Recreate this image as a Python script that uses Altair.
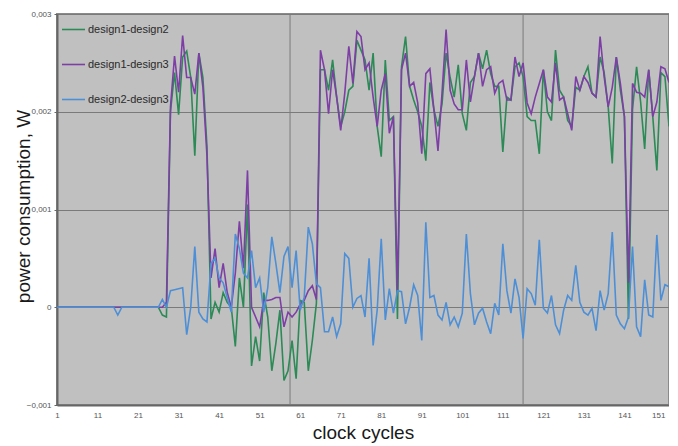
import altair as alt
import pandas as pd

# ---------------- data (values in mW) ----------------
cycles = list(range(1, 153))

d1_d2 = ([0.0] * 26 + [
    -0.08, -0.1, 2.0, 2.4, 1.97, 2.56, 2.62, 2.35, 1.55, 2.6,      # 27-36
    2.35, 1.65, -0.12, 0.05, -0.05, 0.15, 0.05, 0.0, -0.4, 0.3,    # 37-46
    0.0, 1.05, -0.6, -0.3, -0.55, 0.15, -0.1, -0.65, -0.37, -0.03, # 47-56
    -0.75, -0.65, -0.34, -0.73, 0.07, 0.05, -0.65, -0.34, 0.04, 2.43,  # 57-66
    2.43, 2.22, 2.53, 2.15, 1.85, 2.0, 2.22, 2.26, 2.73, 2.63,     # 67-76
    2.53, 2.22, 2.6, 1.85, 1.54, 2.53, 1.91, 1.95, -0.12, 2.46,    # 77-86
    2.77, 2.26, 2.12, 2.0, 1.85, 1.5, 2.3, 2.02, 1.85, 2.08,       # 87-96
    2.6, 2.35, 2.15, 2.48, 1.98, 1.81, 2.3, 2.36, 2.6, 2.44,       # 97-106
    2.63, 2.39, 2.26, 2.26, 1.59, 2.15, 2.12, 2.46, 2.5, 2.36,     # 107-116
    1.95, 1.91, 1.91, 1.57, 2.43, 2.0, 1.91, 2.63, 2.22, 2.15,     # 117-126
    1.91, 1.85, 2.25, 2.22, 2.36, 2.46, 2.19, 2.15, 2.56, 2.4,     # 127-136
    2.05, 1.47, 2.56, 2.22, 1.95, -0.12, 2.02, 2.46, 2.1, 1.62,    # 137-146
    2.43, 1.95, 1.4, 2.4, 2.36, 1.85,                              # 147-152
])

d1_d3 = ([0.0] * 26 + [
    0.0, 0.05, 2.05, 2.57, 2.2, 2.78, 2.35, 2.35, 2.18, 2.6,       # 27-36
    2.25, 1.55, 0.3, 0.6, 0.2, 0.45, 0.15, 0.0, 0.35, 0.88,        # 37-46
    0.4, 1.4, 0.0, -0.1, -0.2, 0.07, 0.07, 0.08, 0.1, 0.1,         # 47-56
    -0.2, -0.05, -0.1, -0.05, 0.03, 0.07, 0.17, 0.22, 0.08, 2.63,  # 57-66
    2.43, 1.98, 2.43, 2.15, 1.81, 2.19, 2.67, 2.29, 2.82, 2.77,    # 67-76
    2.43, 2.5, 2.15, 1.85, 2.22, 2.39, 1.78, 1.95, 0.17, 2.43,     # 77-86
    2.6, 2.26, 2.3, 2.09, 1.57, 2.39, 2.44, 2.02, 1.6, 2.19,       # 87-96
    2.84, 2.22, 2.08, 2.02, 2.02, 2.53, 2.1, 2.36, 2.6, 2.26,      # 97-106
    2.43, 2.46, 2.19, 2.29, 2.32, 2.12, 2.12, 2.56, 2.36, 2.5,     # 107-116
    2.09, 1.98, 2.15, 2.29, 2.43, 2.15, 2.1, 2.5, 2.12, 2.15,      # 117-126
    1.98, 1.81, 2.36, 2.22, 2.36, 2.3, 2.19, 2.15, 2.77, 2.36,     # 127-136
    2.05, 2.25, 2.56, 2.29, 1.95, 0.25, 2.29, 2.2, 2.19, 2.15,     # 137-146
    2.43, 1.95, 2.1, 2.46, 2.44, 2.3,                              # 147-152
])

d2_d3 = ([0.0] * 15 + [-0.08] + [0.0] * 10 + [
    0.08, 0.0, 0.17, 0.18, 0.19, 0.2, -0.28, 0.0, 0.62, -0.05,     # 27-36
    -0.12, -0.15, 0.45, 0.5, 0.3, 0.25, 0.1, -0.05, 0.75, 0.6,     # 37-46
    0.35, 0.3, 0.58, 0.2, 0.3, -0.05, 0.2, 0.72, 0.45, 0.15,       # 47-56
    0.52, 0.62, 0.2, 0.58, -0.03, 0.1, 0.82, 0.65, 0.24, 0.2,      # 57-66
    -0.25, -0.25, -0.1, -0.3, -0.17, 0.55, 0.5, 0.0, 0.09, 0.12,   # 67-76
    -0.1, 0.5, -0.39, -0.03, 0.7, -0.13, 0.19, -0.06, 0.17, 0.16,  # 77-86
    -0.17, 0.0, 0.23, 0.12, -0.34, 0.87, 0.1, 0.12, -0.08, -0.13,  # 87-96
    0.05, -0.18, -0.1, -0.2, -0.06, 0.75, 0.14, -0.18, -0.06, -0.01,  # 97-106
    -0.15, -0.27, 0.04, -0.08, 0.65, 0.17, -0.06, 0.29, 0.1, -0.32,   # 107-116
    0.19, 0.14, 0.02, 0.69, -0.01, -0.06, 0.12, -0.18, -0.27, -0.03,  # 117-126
    0.12, 0.07, 0.43, 0.05, -0.05, -0.08, -0.01, -0.24, 0.17, -0.03,  # 127-136
    0.14, 0.77, -0.08, -0.17, -0.22, -0.1, 0.62, -0.2, -0.3, 0.28,    # 137-146
    -0.08, -0.1, 0.74, 0.07, 0.23, 0.21,                               # 147-152
])

series_names = ["design1-design2", "design1-design3", "design2-design3"]
series_colors = ["#2b8a55", "#7d3fa5", "#4d8fd6"]
series_widths = [1.6, 1.6, 2.6]

x_tick_values = list(range(1, 152, 10))
y_tick_values = [-0.001, 0.0, 0.001, 0.002, 0.003]
v_grid_cycles = [58.5, 116]

rows = []
for name, vals in zip(series_names, [d1_d2, d1_d3, d2_d3]):
    for c, v in zip(cycles, vals):
        rows.append({"cycle": c, "power": v * 1e-3, "series": name})
df = pd.DataFrame(rows)

FONT = "Liberation Sans"

x_enc = alt.X(
    "cycle:Q",
    scale=alt.Scale(domain=[1, 152], nice=False, zero=False),
    axis=alt.Axis(
        values=x_tick_values, format="d", grid=False, ticks=False,
        labelFontSize=8, labelColor="#555555", labelPadding=6,
        labelAlign={"condition": {"test": "datum.value == 151", "value": "right"}, "value": "center"},
        domainColor="#666666", domainWidth=2,
        title="clock cycles", titleFontSize=19, titleFontWeight="normal",
        titleColor="#1a1a1a", titleY=33, titleBaseline="alphabetic",
    ),
)

y_enc = alt.Y(
    "power:Q",
    scale=alt.Scale(domain=[-0.001, 0.003], nice=False),
    axis=alt.Axis(
        values=y_tick_values,
        labelExpr="datum.value == 0 ? '0' : replace(format(datum.value, '.3f'), '.', ',')",
        labelFontSize=8, labelColor="#555555", labelPadding=3,
        ticks=True, tickSize=3, tickColor="#666666",
        grid=True, gridColor="#7a7a7a", gridWidth=1,
        domainColor="#666666", domainWidth=2,
        title="power consumption, W", titleFontSize=19, titleFontWeight="normal",
        titleColor="#1a1a1a", titleAngle=-90, titleX=-28, titleY=192,
        titleAlign="center", titleBaseline="alphabetic",
    ),
)

vgrid = alt.Chart(pd.DataFrame({"cycle": v_grid_cycles})).mark_rule(
    color="#7a7a7a", strokeWidth=1
).encode(x=x_enc)

lines = alt.Chart(df).mark_line().encode(
    x=x_enc,
    y=y_enc,
    color=alt.Color(
        "series:N",
        scale=alt.Scale(domain=series_names, range=series_colors),
        legend=alt.Legend(
            title=None, orient="none", legendX=4, legendY=3,
            symbolType="stroke", symbolSize=529, symbolStrokeWidth=2,
            labelFontSize=11, labelColor="#2a2a2a", labelOffset=2,
            rowPadding=17, padding=0,
        ),
    ),
    strokeWidth=alt.StrokeWidth(
        "series:N",
        scale=alt.Scale(domain=series_names, range=series_widths),
        legend=None,
    ),
)

chart = (
    alt.layer(vgrid, lines)
    .properties(
        width=612, height=391,
        autosize=alt.AutoSizeParams(type="none"),
        padding={"left": 49, "top": 6, "right": 0, "bottom": 39},
        background="white",
    )
    .configure_view(fill="#c0c0c0", stroke="#8a8a8a", strokeWidth=2)
    .configure_axis(labelFont=FONT, titleFont=FONT)
    .configure_legend(labelFont=FONT)
)

chart.save("out.html", embed_options={"renderer": "svg", "actions": False})
